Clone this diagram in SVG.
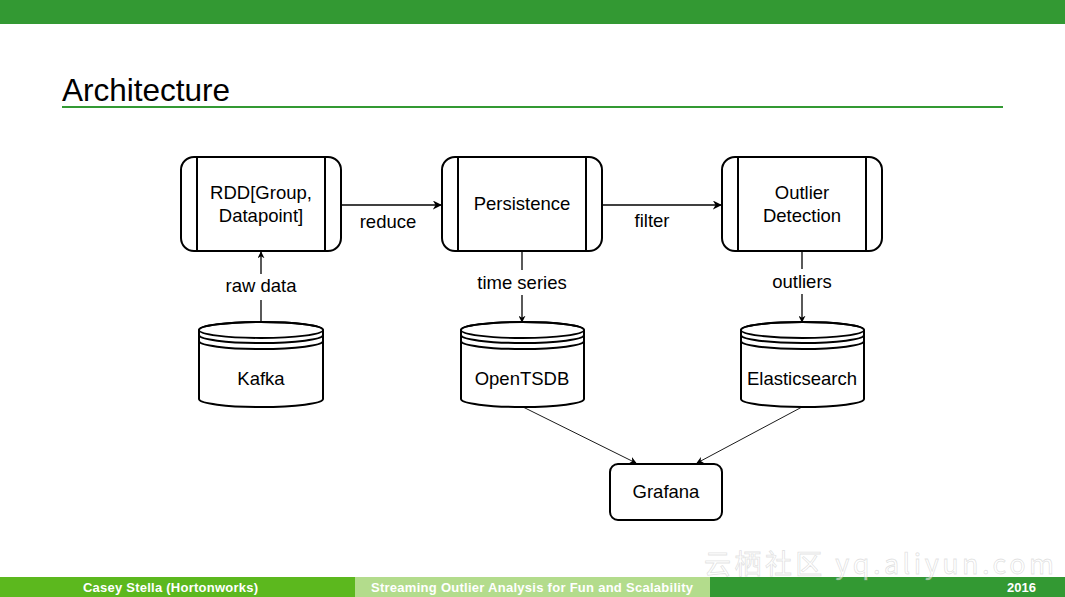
<svg xmlns="http://www.w3.org/2000/svg" width="1065" height="597" viewBox="0 0 1065 597">
<style>
.lbl{font-family:"Liberation Sans",Arial,sans-serif;font-size:18.5px;fill:#000;text-anchor:middle}
.box{fill:#fff;stroke:#000;stroke-width:2}
.inner{stroke:#000;stroke-width:2;fill:none}
.conn{stroke:#000;stroke-width:1.3;fill:none}
.thin{stroke:#000;stroke-width:0.9;fill:none}
.foot{font-family:"Liberation Sans",Arial,sans-serif;font-weight:bold;font-size:13px;fill:#fff}
</style>
<defs>
<marker id="arr" viewBox="0 0 10 10" refX="9" refY="5" markerWidth="7" markerHeight="7" orient="auto" markerUnits="userSpaceOnUse">
<path d="M0,0 L10,5 L0,10 L3,5 Z" fill="#000"/>
</marker>
<marker id="arr2" viewBox="0 0 10 10" refX="9" refY="5" markerWidth="9" markerHeight="9" orient="auto" markerUnits="userSpaceOnUse">
<path d="M0,0 L10,5 L0,10 L3,5 Z" fill="#000"/>
</marker>
</defs>
<rect x="0" y="0" width="1065" height="597" fill="#fff"/>
<rect x="0" y="0" width="1065" height="24" fill="#339933"/>
<text x="62" y="101" font-family="Liberation Sans,DejaVu Sans,sans-serif" font-size="31.5" fill="#000" textLength="168">Architecture</text>
<rect x="62" y="106" width="941" height="2" fill="#339933"/>

<g id="connectors">
<line class="conn" x1="341" y1="205" x2="441" y2="205" marker-end="url(#arr2)"/>
<line class="conn" x1="602" y1="205" x2="721" y2="205" marker-end="url(#arr2)"/>
<line class="conn" x1="261" y1="322" x2="261" y2="300"/>
<line class="conn" x1="261" y1="274" x2="261" y2="252" marker-end="url(#arr)"/>
<line class="conn" x1="522" y1="251" x2="522" y2="270"/>
<line class="conn" x1="522" y1="295" x2="522" y2="322" marker-end="url(#arr)"/>
<line class="conn" x1="802" y1="251" x2="802" y2="269"/>
<line class="conn" x1="802" y1="294" x2="802" y2="322" marker-end="url(#arr)"/>
<line class="thin" x1="523" y1="407" x2="636" y2="463" marker-end="url(#arr)"/>
<line class="thin" x1="802" y1="407" x2="697" y2="463" marker-end="url(#arr)"/>
<text class="lbl" x="388" y="228">reduce</text>
<text class="lbl" x="652" y="227">filter</text>
<text class="lbl" x="261" y="292">raw data</text>
<text class="lbl" x="522" y="289">time series</text>
<text class="lbl" x="802" y="288">outliers</text>
</g>

<g id="rdd">
<rect class="box" x="181" y="157" width="160" height="94" rx="13"/>
<line class="inner" x1="197" y1="157" x2="197" y2="251"/>
<line class="inner" x1="325" y1="157" x2="325" y2="251"/>
<text class="lbl" x="261" y="199">RDD[Group,</text>
<text class="lbl" x="261" y="222">Datapoint]</text>
</g>
<g id="persistence">
<rect class="box" x="442" y="157" width="160" height="94" rx="13"/>
<line class="inner" x1="458" y1="157" x2="458" y2="251"/>
<line class="inner" x1="586" y1="157" x2="586" y2="251"/>
<text class="lbl" x="522" y="210">Persistence</text>
</g>
<g id="outlier">
<rect class="box" x="722" y="157" width="160" height="94" rx="13"/>
<line class="inner" x1="738" y1="157" x2="738" y2="251"/>
<line class="inner" x1="866" y1="157" x2="866" y2="251"/>
<text class="lbl" x="802" y="199">Outlier</text>
<text class="lbl" x="802" y="222">Detection</text>
</g>

<g id="kafka">
<path class="box" d="M199,330 A62,8 0 0 1 323,330 L323,399 A62,8 0 0 1 199,399 Z"/>
<ellipse cx="261" cy="330" rx="62" ry="8" fill="none" stroke="#000" stroke-width="1.8"/>
<path class="inner" stroke-width="1.8" d="M199,335 A62,8 0 0 0 323,335 M199,341 A62,8 0 0 0 323,341"/>
<text class="lbl" x="261" y="385">Kafka</text>
</g>
<g id="opentsdb">
<path class="box" d="M461,330 A61.5,8 0 0 1 584,330 L584,399 A61.5,8 0 0 1 461,399 Z"/>
<ellipse cx="522.5" cy="330" rx="61.5" ry="8" fill="none" stroke="#000" stroke-width="1.8"/>
<path class="inner" stroke-width="1.8" d="M461,335 A61.5,8 0 0 0 584,335 M461,341 A61.5,8 0 0 0 584,341"/>
<text class="lbl" x="522" y="385">OpenTSDB</text>
</g>
<g id="elasticsearch">
<path class="box" d="M741,330 A61.5,8 0 0 1 864,330 L864,399 A61.5,8 0 0 1 741,399 Z"/>
<ellipse cx="802.5" cy="330" rx="61.5" ry="8" fill="none" stroke="#000" stroke-width="1.8"/>
<path class="inner" stroke-width="1.8" d="M741,335 A61.5,8 0 0 0 864,335 M741,341 A61.5,8 0 0 0 864,341"/>
<text class="lbl" x="802" y="385">Elasticsearch</text>
</g>
<g id="grafana">
<rect class="box" x="610" y="464" width="112" height="56" rx="8"/>
<text class="lbl" x="666" y="498">Grafana</text>
</g>

<rect x="0" y="577" width="355" height="20" fill="#5cb81e"/>
<rect x="355" y="577" width="355" height="20" fill="#b3dc8c"/>
<rect x="710" y="577" width="355" height="20" fill="#339933"/>
<text class="foot" x="83" y="592" textLength="175">Casey Stella  (Hortonworks)</text>
<text class="foot" x="371" y="592" textLength="322">Streaming Outlier Analysis for Fun and Scalability</text>
<text class="foot" x="1036" y="592" text-anchor="end">2016</text>
<text x="704" y="574" font-family="Noto Sans CJK SC,Liberation Sans,sans-serif" font-size="27" fill="#fff" fill-opacity="0.55" stroke="#aaa" stroke-opacity="0.35" stroke-width="0.8" textLength="350">云栖社区 yq.aliyun.com</text>
</svg>
